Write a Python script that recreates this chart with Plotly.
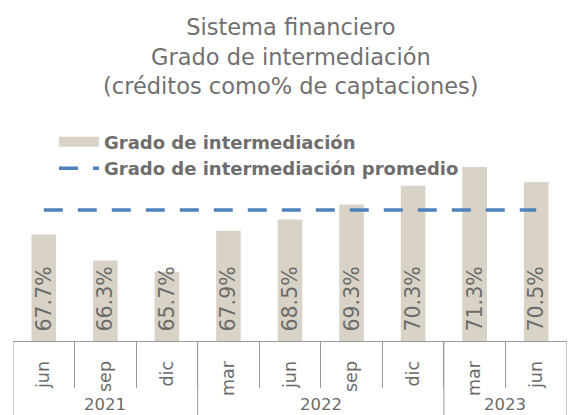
import plotly.graph_objects as go

years = ["2021", "2021", "2021", "2022", "2022", "2022", "2022", "2023", "2023"]
months = ["jun", "sep", "dic", "mar", "jun", "sep", "dic", "mar", "jun"]
grado = [67.7, 66.3, 65.7, 67.9, 68.5, 69.3, 70.3, 71.3, 70.5]
promedio = [69.0, 69.0, 69.0, 69.0, 69.0, 69.0, 69.0, 69.0, 69.0]
labels = [f"\u00a0{v:.1f}%" for v in grado]

FONT = "DejaVu Sans"
TXT = "#6b6b6b"
BAR = "#d9d3c7"
LINE = "#4f81bd"
AX = "#9a9a9a"

Y_MIN = 62.0           # axis minimum (bars start here)
PX_PER_UNIT = 18.7
PLOT_H = 415 - 120 - 74

xs = list(range(len(months)))
groups = []
for i, y in enumerate(years):
    if groups and groups[-1][0] == y:
        groups[-1][2] = i
    else:
        groups.append([y, i, i])

fig = go.Figure()
fig.add_trace(go.Bar(
    x=xs, y=[v - Y_MIN for v in grado], base=Y_MIN,
    name="Grado de intermediación", width=0.4,
    marker=dict(color=BAR, line=dict(width=0)),
    text=labels, textposition="inside", insidetextanchor="start",
    textangle=-90, constraintext="none",
    textfont=dict(family=FONT, size=20.5, color=TXT),
    showlegend=False, hoverinfo="skip",
))
# legend proxy for the bar series (wide swatch)
fig.add_trace(go.Scatter(
    x=[xs[0]], y=[None], mode="lines", name="Grado de intermediación",
    line=dict(color=BAR, width=10), hoverinfo="skip",
))
fig.add_trace(go.Scatter(
    x=xs, y=promedio, mode="lines",
    name="Grado de intermediación promedio",
    line=dict(color=LINE, width=3.5, dash="19px,15px"),
    hoverinfo="skip",
))

shapes = []
annotations = []
for name, a, b in groups:
    shapes.append(dict(type="line", xref="x", yref="paper", x0=a - 0.5, x1=a - 0.5,
                       y0=0, y1=-74 / PLOT_H, line=dict(color=AX, width=1)))
    annotations.append(dict(x=(a + b) / 2, xref="x", y=-63.5 / PLOT_H, yref="paper",
                            text=name, showarrow=False, yanchor="middle",
                            font=dict(family=FONT, size=16.5, color=TXT)))
last = groups[-1][2]
shapes.append(dict(type="line", xref="x", yref="paper", x0=last + 0.5, x1=last + 0.5,
                   y0=0, y1=-74 / PLOT_H, line=dict(color=AX, width=1)))

fig.update_layout(
    width=568, height=415,
    margin=dict(l=13, r=1, t=120, b=74),
    paper_bgcolor="white", plot_bgcolor="white",
    font=dict(family=FONT, color=TXT, size=18),
    title=dict(
        text="Sistema financiero<br>Grado de intermediación<br>(créditos como% de captaciones)",
        x=0.512, xanchor="center", y=0.915, yanchor="top",
        font=dict(family=FONT, size=22.5, color="#707070"),
    ),
    legend=dict(
        x=0.074, y=0.984, xanchor="left", yanchor="top",
        bgcolor="rgba(0,0,0,0)",
        font=dict(family=FONT, size=18, color="#6e6e6e", weight="bold"),
        itemwidth=40, tracegroupgap=0,
    ),
    xaxis=dict(
        range=[-0.5, len(months) - 0.5], showline=True, linecolor=AX, linewidth=1,
        tickmode="array", tickvals=xs, ticktext=months, ticks="",
        tickangle=-90, tickfont=dict(family=FONT, size=17.5, color=TXT),
        ticklabelstandoff=12,
        minor=dict(tickmode="array", tickvals=[x + 0.5 for x in xs[:-1]],
                   ticks="outside", ticklen=46, tickcolor=AX, tickwidth=1, showgrid=False),
        showgrid=False, zeroline=False, fixedrange=True,
    ),
    yaxis=dict(
        range=[Y_MIN, Y_MIN + PLOT_H / PX_PER_UNIT], visible=False,
        showgrid=False, fixedrange=True,
    ),
    shapes=shapes, annotations=annotations,
)

fig.write_html(
    "out.html",
    config={"displayModeBar": False},
    post_script="document.body.style.margin='0px';document.body.style.overflow='hidden';",
)
